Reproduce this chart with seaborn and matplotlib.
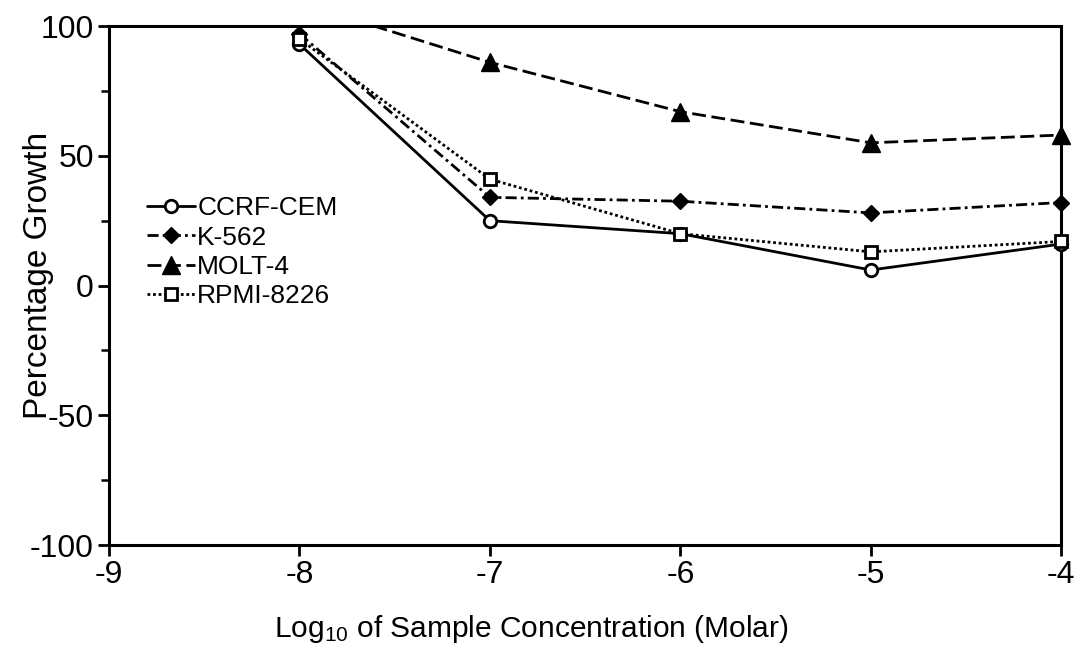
import matplotlib
matplotlib.use("Agg")
import matplotlib.pyplot as plt
from matplotlib.patches import Rectangle
from matplotlib.ticker import MultipleLocator
import pandas as pd
import seaborn as sns

# Log10 molar concentrations tested
concentration = [-8, -7, -6, -5, -4]

# Percentage growth of each leukemia cell line
ccrf_cem = [93, 25, 20, 6, 16]
k_562 = [97, 34, 32.5, 28, 32]
molt_4 = [109, 86, 67, 55, 58]
rpmi_8226 = [95, 41, 20, 13, 17]

series_names = ["CCRF-CEM", "K-562", "MOLT-4", "RPMI-8226"]
series_values = [ccrf_cem, k_562, molt_4, rpmi_8226]

x_ticks = [-9, -8, -7, -6, -5, -4]
y_ticks = [-100, -50, 0, 50, 100]

sns.set_theme(style="white")
plt.rcParams["font.family"] = ["Liberation Sans", "DejaVu Sans"]
plt.rcParams["mathtext.fontset"] = "custom"
plt.rcParams["mathtext.rm"] = "Liberation Sans"
plt.rcParams["mathtext.it"] = "Liberation Sans"
plt.rcParams["axes.unicode_minus"] = False

df = pd.DataFrame(
    [(name, c, v) for name, vals in zip(series_names, series_values)
     for c, v in zip(concentration, vals)],
    columns=["line", "conc", "growth"],
)

styles = {
    "CCRF-CEM": dict(linestyle="-", marker="o", markersize=9,
                     markerfacecolor="white", markeredgewidth=2.0),
    "K-562": dict(linestyle=(0, (4, 1.5, 1, 1.5)), marker="D", markersize=8,
                  markerfacecolor="black", markeredgewidth=1.0),
    "MOLT-4": dict(linestyle=(0, (5, 2)), marker="^", markersize=13,
                   markerfacecolor="black", markeredgewidth=1.0),
    "RPMI-8226": dict(linestyle=(0, (1, 1)), marker="s", markersize=9,
                      markerfacecolor="white", markeredgewidth=2.0),
}

fig = plt.figure(figsize=(10.84, 6.6), dpi=100)
ax = fig.add_axes([0.1006, 0.174, 0.8784, 0.7866])

for name in series_names:
    sub = df[df["line"] == name]
    sns.lineplot(data=sub, x="conc", y="growth", ax=ax, label=name,
                 color="black", markeredgecolor="black", linewidth=2.0,
                 **styles[name])

# Clip at the top of the frame only, so end markers can sit over the right edge
clip_box = Rectangle((-0.05, 0), 1.1, 1, transform=ax.transAxes,
                     facecolor="none", edgecolor="none")
for line in ax.get_lines():
    line.set_clip_path(clip_box)

ax.set_xlim(-9, -4)
ax.set_ylim(-100, 100)
ax.set_xticks(x_ticks)
ax.set_xticklabels([str(t) for t in x_ticks])
ax.set_yticks(y_ticks)
ax.set_yticklabels([str(t) for t in y_ticks])
ax.yaxis.set_minor_locator(MultipleLocator(25))

for spine in ax.spines.values():
    spine.set_visible(True)
    spine.set_color("black")
    spine.set_linewidth(2.2)
    spine.set_zorder(1.5)

ax.tick_params(axis="both", which="major", direction="out", length=8,
               width=2.0, color="black", labelsize=23, labelcolor="black",
               pad=3, left=True, bottom=True)
ax.tick_params(axis="y", which="minor", direction="out", length=6,
               width=1.8, color="black", left=True)

ax.set_xlabel(r"Log$_{10}$ of Sample Concentration (Molar)", fontsize=21.5,
              color="black")
ax.set_ylabel("Percentage Growth", fontsize=24, color="black")
ax.xaxis.set_label_coords(0.443, -0.13)
ax.yaxis.set_label_coords(-0.058, 0.52)

leg = ax.legend(loc="upper left", bbox_to_anchor=(0.04, 0.672), frameon=False,
                fontsize=19, handlelength=1.8, handletextpad=0.1,
                labelspacing=0.2, borderaxespad=0, borderpad=0)
for t in leg.get_texts():
    t.set_color("black")

fig.savefig("out.png", dpi=100, facecolor="white")
